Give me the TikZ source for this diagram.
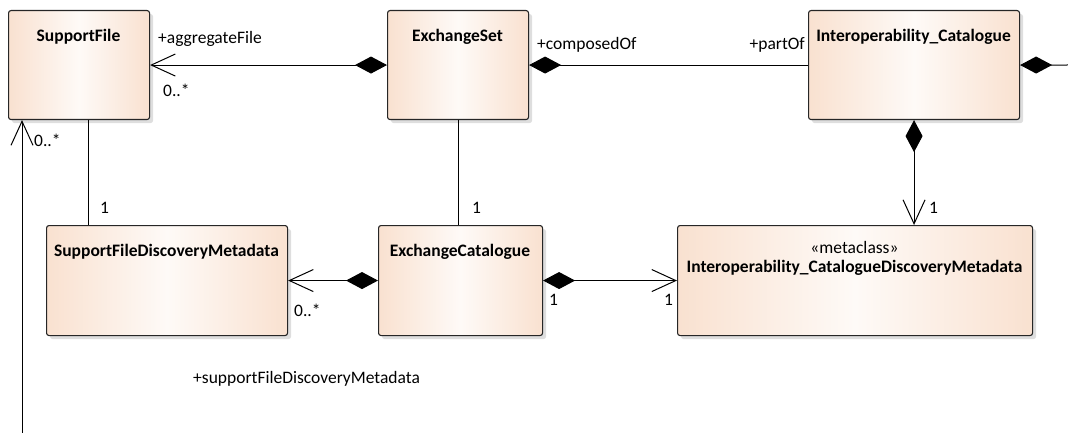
\documentclass[tikz,border=0pt]{standalone}
\usepackage{fontspec}
\setmainfont{Carlito}
\usetikzlibrary{arrows.meta,shadows}

\definecolor{umlpeach}{RGB}{249,225,208}
\definecolor{umllight}{RGB}{254,250,247}

\tikzset{
  umlclass/.style={draw=black!85, line width=1.1pt, rounded corners=2.5pt, anchor=north west,
    left color=umlpeach, right color=umlpeach, middle color=umllight, shading angle=90,
    general shadow={fill=black!13, shadow xshift=3.5pt, shadow yshift=-3.5pt},
    inner sep=0pt},
  umltitle/.style={font=\fontsize{17.5}{20}\selectfont\bfseries, inner sep=0pt},
  umllabel/.style={font=\fontsize{17.5}{20}\selectfont, inner sep=0pt},
  assoc/.style={line width=1pt, black},
  comp/.style={assoc, {Diamond[length=32pt,width=17pt]}-},
  compnav/.style={assoc, {Diamond[length=32pt,width=17pt]}-{Straight Barb[length=24pt,width=22pt,line width=1pt]}},
  nav/.style={assoc, -{Straight Barb[length=24pt,width=22pt,line width=1pt]}}
}

\begin{document}
\begin{tikzpicture}[x=1pt,y=-1pt]
\useasboundingbox (0,0) rectangle (1068,433);

% classes
\node [umlclass, minimum width=141pt, minimum height=109pt] (sf) at (8,10) {};
\node [umltitle] at (78.5,37) {SupportFile};
\node [umlclass, minimum width=141pt, minimum height=109pt] (es) at (387,10) {};
\node [umltitle] at (457.5,37) {ExchangeSet};
\node [umlclass, minimum width=211pt, minimum height=109pt] (ic) at (808,10) {};
\node [umltitle] at (913.5,37) {Interoperability\_Catalogue};
\node [umlclass, minimum width=241pt, minimum height=110pt] (sfdm) at (46,225) {};
\node [umltitle] at (166.5,252) {SupportFileDiscoveryMetadata};
\node [umlclass, minimum width=164pt, minimum height=110pt] (ec) at (378,225) {};
\node [umltitle] at (460,252) {ExchangeCatalogue};
\node [umlclass, minimum width=355pt, minimum height=110pt] (icdm) at (677,225) {};
\node [umllabel] at (854.5,247) {«metaclass»};
\node [umltitle] at (854.5,268) {Interoperability\_CatalogueDiscoveryMetadata};

% free ends
\coordinate (rgt) at (1068,65);
\coordinate (lft) at (22,433);

% associations
\draw [compnav] (es.west) -- (sf.east);
\draw [comp] (es.east) -- (ic.west);
\draw [comp] (ic.east) -- (rgt);
\draw [compnav] (ic.south) -- (ic.south |- icdm.north);
\draw [assoc] ([xshift=9.5pt]sf.south) -- ([xshift=9.5pt]sf.south |- sfdm.north);
\draw [assoc] (es.south) -- (es.south |- ec.north);
\draw [compnav] (ec.west) -- (sfdm.east);
\draw [compnav] (ec.east) -- (icdm.west);
\draw [nav] (lft) -- (lft |- sf.south);

% role names and multiplicities
\node [umllabel, anchor=west] at (158,39) {+aggregateFile};
\node [umllabel, anchor=west] at (163,90) {0..*};
\node [umllabel, anchor=west] at (537,45) {+composedOf};
\node [umllabel, anchor=east] at (805,45) {+partOf};
\node [umllabel, anchor=west] at (34,140) {0..*};
\node [umllabel, anchor=west] at (100,208) {1};
\node [umllabel, anchor=west] at (472,208) {1};
\node [umllabel, anchor=west] at (929,208) {1};
\node [umllabel, anchor=west] at (294,310) {0..*};
\node [umllabel, anchor=west] at (549,300) {1};
\node [umllabel, anchor=west] at (664,300) {1};
\node [umllabel, anchor=west] at (193,379) {+supportFileDiscoveryMetadata};
\end{tikzpicture}
\end{document}
